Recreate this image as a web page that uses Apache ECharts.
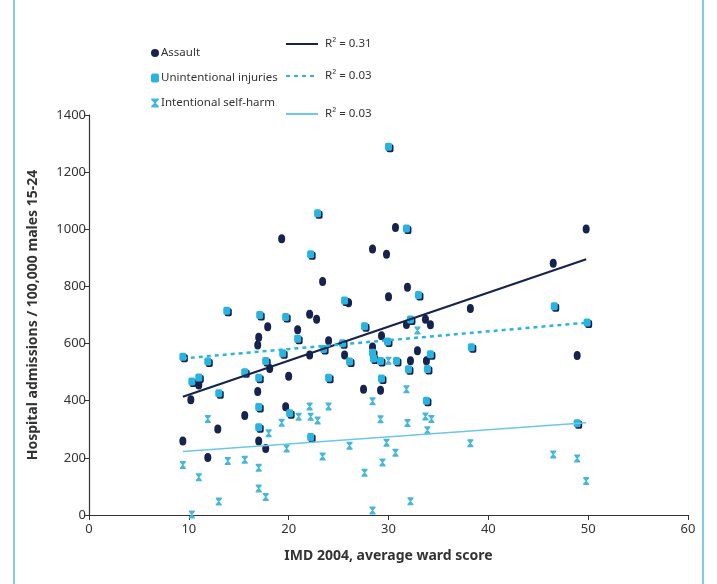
<!DOCTYPE html>
<html>
<head>
<meta charset="utf-8">
<script src="https://cdn.jsdelivr.net/npm/echarts@6/dist/echarts.min.js"></script>
<style>
  html, body { margin: 0; padding: 0; background: #fff; }
  #chart { width: 717px; height: 584px; }
</style>
</head>
<body>
<div id="chart"></div>
<script>
// [IMD score, admissions per 100,000]
const assault = [
  [9.4, 259], [10.2, 403], [11.0, 455], [11.9, 201], [12.9, 301], [15.6, 348],
  [16.9, 432], [17.0, 622], [16.9, 595], [17.0, 259], [17.7, 233], [17.9, 659],
  [18.1, 513], [19.3, 967], [19.7, 379], [20.0, 486], [20.9, 648], [22.1, 703],
  [22.8, 685], [22.1, 560], [23.4, 817], [24.0, 610], [25.6, 560], [26.0, 743],
  [27.5, 440], [28.4, 588], [28.4, 931], [29.2, 437], [29.3, 627], [29.8, 913],
  [30.0, 764], [30.7, 1006], [31.8, 667], [31.9, 797], [32.2, 540], [32.9, 575],
  [33.7, 685], [33.8, 540], [34.2, 666], [38.2, 723], [46.5, 881], [48.9, 558],
  [49.8, 1001]
]
const injuries = [
  [9.4, 554], [10.3, 467], [11.0, 481], [11.9, 537], [13.0, 426], [13.8, 715],
  [15.6, 500], [17.0, 480], [17.0, 378], [17.0, 307], [17.1, 700], [17.7, 539],
  [19.4, 566], [19.7, 693], [20.1, 356], [20.9, 617], [22.2, 273], [22.2, 913],
  [22.9, 1056], [23.5, 581], [24.0, 480], [25.4, 601], [25.6, 751], [26.1, 537],
  [27.6, 661], [28.4, 568], [28.5, 548], [29.2, 539], [29.3, 478], [29.9, 607],
  [30.0, 1289], [30.8, 539], [31.8, 1003], [32.0, 510], [32.2, 684], [33.0, 770],
  [33.8, 400], [33.9, 511], [34.2, 563], [38.3, 587], [46.6, 731], [48.9, 321],
  [49.9, 674]
]
const selfHarm = [
  [9.4, 175], [10.3, 2], [11.0, 132], [11.9, 336], [13.0, 47], [13.9, 189],
  [15.6, 193], [17.0, 165], [17.0, 93], [17.7, 63], [18.0, 286], [19.3, 323],
  [19.8, 233], [21.0, 344], [22.1, 380], [22.2, 344], [22.9, 331], [23.4, 205],
  [24.0, 380], [26.1, 242], [27.6, 148], [28.4, 16], [28.4, 398], [29.2, 335],
  [29.4, 184], [29.8, 253], [30.0, 540], [30.7, 218], [31.8, 440], [31.9, 322],
  [32.2, 48], [32.9, 646], [33.7, 345], [33.9, 297], [34.3, 336], [38.2, 251],
  [46.5, 212], [48.9, 198], [49.8, 119]
]

// trend line ends
const fitAssault = [[9.4, 414], [49.8, 895]]
const fitInjuries = [[9.4, 548], [49.8, 673]]
const fitSelfHarm = [[9.4, 222], [49.8, 323]]

const seriesNames = ['Assault', 'Unintentional injuries', 'Intentional self-harm']
const fitNames = ['fitAssault', 'fitInjuries', 'fitSelfHarm']
const r2Labels = ['R² = 0.31', 'R² = 0.03', 'R² = 0.03']

const navy = '#16234d'
const blue = '#2bb3e0'
const teal = '#45b8da'
const font = 'Noto Sans'

// hourglass marker used for self-harm
const hourglass = 'path://M0,0L10,0L10,2L6,6L10,10L10,12L0,12L0,10L4,6L0,2Z'

const chart = echarts.init(document.getElementById('chart'), null, { renderer: 'canvas' })

function fitLegend(i, top) {
  return {
    data: [fitNames[i]],
    left: 280,
    top: top,
    itemWidth: 32,
    itemHeight: 6,
    selectedMode: false,
    itemStyle: { opacity: 0 },
    formatter: () => r2Labels[i],
    textStyle: { fontFamily: font, fontSize: 11.5, color: '#333', padding: [0, 0, 0, 2] }
  }
}

const option = {
  backgroundColor: '#fff',
  animation: false,
  textStyle: { fontFamily: font },
  grid: { left: 89, right: 29, top: 115, bottom: 69 },
  legend: [
    {
      data: seriesNames,
      orient: 'vertical',
      left: 146,
      top: 42,
      itemWidth: 8,
      itemHeight: 9,
      itemGap: 13,
      selectedMode: false,
      textStyle: { fontFamily: font, fontSize: 11.5, color: '#333', padding: [0, 0, 0, -3] }
    },
    fitLegend(0, 33),
    fitLegend(1, 65),
    fitLegend(2, 103)
  ],
  xAxis: {
    type: 'value',
    min: 0,
    max: 60,
    interval: 10,
    name: 'IMD 2004, average ward score',
    nameLocation: 'middle',
    nameGap: 34,
    nameTextStyle: { fontFamily: font, fontSize: 14, fontWeight: 'bold', color: '#333' },
    axisLine: { lineStyle: { color: '#333', width: 1.2 } },
    axisTick: { show: true, length: 5, lineStyle: { color: '#333' } },
    axisLabel: { fontFamily: font, fontSize: 13, color: '#333', margin: 8 },
    splitLine: { show: false }
  },
  yAxis: {
    type: 'value',
    min: 0,
    max: 1400,
    interval: 200,
    name: 'Hospital admissions / 100,000 males 15-24',
    nameLocation: 'middle',
    nameGap: 49,
    nameTextStyle: { fontFamily: font, fontSize: 14, fontWeight: 'bold', color: '#333' },
    axisLine: { show: true, lineStyle: { color: '#333', width: 1.2 } },
    axisTick: { show: true, length: 5, lineStyle: { color: '#333' } },
    axisLabel: { fontFamily: font, fontSize: 13, color: '#333', margin: 3, formatter: v => String(v) },
    splitLine: { show: false }
  },
  graphic: [
    { type: 'line', shape: { x1: 14, y1: 0, x2: 14, y2: 584 }, style: { stroke: '#7fcbe8', lineWidth: 2 } },
    { type: 'line', shape: { x1: 703, y1: 0, x2: 703, y2: 584 }, style: { stroke: '#7fcbe8', lineWidth: 2 } }
  ],
  series: [
    {
      name: seriesNames[0],
      type: 'scatter',
      symbol: 'circle',
      symbolSize: [7, 9],
      itemStyle: { color: navy, opacity: 1 },
      data: assault
    },
    {
      name: seriesNames[1],
      type: 'scatter',
      symbol: 'roundRect',
      symbolSize: [7, 8],
      itemStyle: {
        color: blue,
        opacity: 1,
        shadowColor: navy,
        shadowBlur: 0,
        shadowOffsetX: 1.5,
        shadowOffsetY: 1.5
      },
      data: injuries
    },
    {
      name: seriesNames[2],
      type: 'scatter',
      symbol: hourglass,
      symbolSize: [6, 8],
      itemStyle: { color: teal, opacity: 1 },
      data: selfHarm
    },
    {
      name: fitNames[0],
      type: 'line',
      symbol: 'none',
      lineStyle: { color: navy, width: 2.2 },
      itemStyle: { color: navy },
      data: fitAssault
    },
    {
      name: fitNames[1],
      type: 'line',
      symbol: 'none',
      lineStyle: { color: blue, width: 2.5, type: [4, 4] },
      itemStyle: { color: blue },
      data: fitInjuries
    },
    {
      name: fitNames[2],
      type: 'line',
      symbol: 'none',
      lineStyle: { color: '#6cc7e8', width: 1.6 },
      itemStyle: { color: '#6cc7e8' },
      data: fitSelfHarm
    }
  ]
}

chart.setOption(option)
</script>
</body>
</html>
